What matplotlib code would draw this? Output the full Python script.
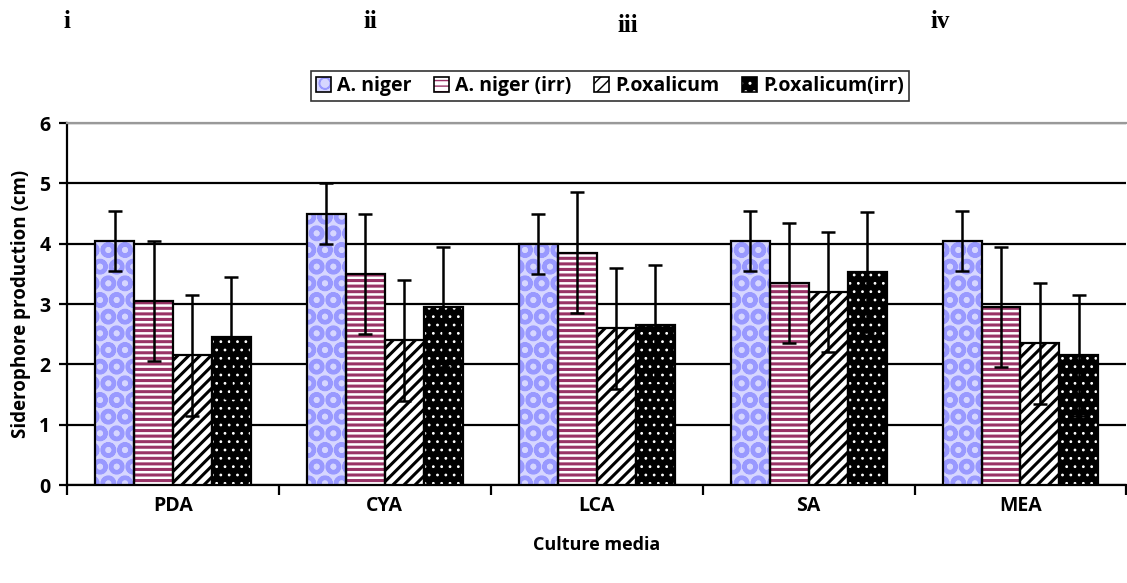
import numpy as np
import matplotlib.pyplot as plt

# data
media = ["PDA", "CYA", "LCA", "SA", "MEA"]
series = ["A. niger", "A. niger (irr)", "P.oxalicum", "P.oxalicum(irr)"]
a_niger = [4.05, 4.5, 4.0, 4.05, 4.05]
a_niger_irr = [3.05, 3.5, 3.85, 3.35, 2.95]
p_oxal = [2.15, 2.4, 2.6, 3.2, 2.35]
p_oxal_irr = [2.45, 2.95, 2.65, 3.53, 2.15]
err_a_niger = [0.5, 0.5, 0.5, 0.5, 0.5]
err_a_niger_irr = [1.0, 1.0, 1.0, 1.0, 1.0]
err_p_oxal = [1.0, 1.0, 1.0, 1.0, 1.0]
err_p_oxal_irr = [1.0, 1.0, 1.0, 1.0, 1.0]
panel_labels = ["i", "ii", "iii", "iv"]

values = [a_niger, a_niger_irr, p_oxal, p_oxal_irr]
errors = [err_a_niger, err_a_niger_irr, err_p_oxal, err_p_oxal_irr]

# (face, hatch, hatch colour, hatch width)
styles = [("#d6d6ff", "O", "#9999ff", 3.0),
          ("white", "---", "#993366", 2.2),
          ("white", "///", "black", 2.2),
          ("black", "..", "white", 0.8)]

plt.rcParams['font.family'] = ['Open Sans', 'DejaVu Sans']

fig = plt.figure(figsize=(11.27, 5.83), dpi=100)
ax = fig.add_axes([0.0595, 0.168, 0.94, 0.621])

x = np.arange(len(media))
w = 0.184
handles = []
for i, (vals, errs) in enumerate(zip(values, errors)):
    face, hatch, hcol, hlw = styles[i]
    pos = x + (i - 1.5) * w
    with plt.rc_context({'hatch.linewidth': hlw}):
        ax.bar(pos, vals, w, color=face, edgecolor=hcol, hatch=hatch, lw=0, zorder=3)
        h1 = plt.Rectangle((0, 0), 1, 1, facecolor=face, edgecolor=hcol, hatch=hatch, lw=0)
    ax.bar(pos, vals, w, fill=False, edgecolor="black", lw=1.6, zorder=4)
    ax.errorbar(pos, vals, yerr=errs, fmt="none", ecolor="black", elinewidth=1.8,
                capsize=5, capthick=1.8, zorder=5)
    h2 = plt.Rectangle((0, 0), 1, 1, fill=False, edgecolor="black", lw=1.2)
    handles.append((h1, h2))

ax.set_xlim(-0.5, 4.5)
ax.set_ylim(0, 6)
ax.set_yticks(range(7))
ax.set_yticklabels([str(v) for v in range(7)], fontweight="bold", fontsize=14)
ax.yaxis.grid(True, color="black", lw=1.6, zorder=0)
ax.set_axisbelow(True)
ax.set_xticks(x)
ax.set_xticklabels(media, fontweight="bold", fontsize=14)
ax.tick_params(axis="x", length=0, pad=8)
ax.set_xticks(np.arange(-0.5, 5, 1), minor=True)
ax.tick_params(axis="x", which="minor", length=7, width=1.6)
ax.tick_params(axis="y", length=6, width=1.6, pad=6)
ax.spines["right"].set_visible(False)
ax.spines["top"].set_color("#999999")
ax.spines["top"].set_linewidth(1.6)
ax.spines["left"].set_linewidth(1.6)
ax.spines["bottom"].set_linewidth(1.6)
ax.set_ylabel("Siderophore production (cm)", fontweight="bold", fontsize=13.5, labelpad=6)
ax.set_xlabel("Culture media", fontweight="bold", fontsize=13, labelpad=14)

leg = fig.legend(handles, series, loc="center", bbox_to_anchor=(0.541, 0.852), ncol=4,
                 frameon=True, fancybox=False, edgecolor="black", handlelength=0.8,
                 handleheight=0.8, handletextpad=0.3, columnspacing=1.15,
                 borderpad=0.25, prop={"weight": "bold", "size": 14})
leg.get_frame().set_linewidth(1.2)

for lab, px, py in zip(panel_labels, [67, 370, 628, 940], [22, 22, 26, 22]):
    fig.text(px / 1127, 1 - py / 583, lab, ha="center", va="center",
             family="Liberation Serif", fontweight="bold", fontsize=18)

fig.savefig("out.png", dpi=100)
